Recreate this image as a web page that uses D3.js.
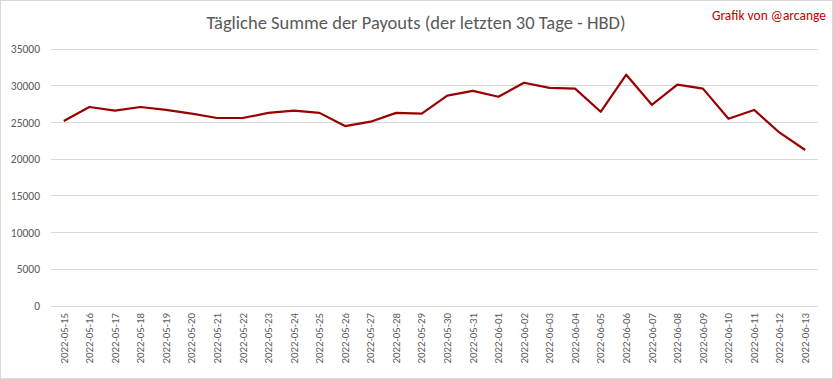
<!DOCTYPE html>
<html><head><meta charset="utf-8">
<script src="https://cdn.jsdelivr.net/npm/d3@7"></script>
<style>body{margin:0;background:#fff}svg{display:block}</style>
</head><body>
<script>
const dates = ["2022-05-15","2022-05-16","2022-05-17","2022-05-18","2022-05-19","2022-05-20","2022-05-21","2022-05-22","2022-05-23","2022-05-24","2022-05-25","2022-05-26","2022-05-27","2022-05-28","2022-05-29","2022-05-30","2022-05-31","2022-06-01","2022-06-02","2022-06-03","2022-06-04","2022-06-05","2022-06-06","2022-06-07","2022-06-08","2022-06-09","2022-06-10","2022-06-11","2022-06-12","2022-06-13"];
const payouts = [25200,27100,26600,27100,26700,26200,25600,25600,26300,26600,26300,24500,25100,26300,26200,28640,29300,28500,30400,29700,29600,26450,31500,27400,30150,29600,25500,26700,23600,21250];
const yTicks = [0,5000,10000,15000,20000,25000,30000,35000];
const title = "Tägliche Summe der Payouts (der letzten 30 Tage - HBD)";
const credit = "Grafik von @arcange";

const W=833,H=379;
const svg=d3.select("body").append("svg").attr("width",W).attr("height",H);
svg.append("rect").attr("x",0.5).attr("y",0.5).attr("width",W-1).attr("height",H-1).attr("fill","#fff").attr("stroke","#d9d9d9");
const font="Carlito, Calibri, 'Liberation Sans', Arial, sans-serif";
const x=d3.scaleBand().domain(dates).range([51,818]);
const y=d3.scaleLinear().domain([0,35000]).range([306,49]);

svg.append("g").selectAll("line").data(yTicks).join("line")
  .attr("x1",51).attr("x2",818).attr("y1",d=>y(d)).attr("y2",d=>y(d))
  .attr("stroke","#d9d9d9").attr("stroke-width",1).attr("shape-rendering","crispEdges");

const ya=svg.append("g").attr("transform","translate(51,0)").call(d3.axisLeft(y).tickValues(yTicks).tickSize(0).tickPadding(11).tickFormat(d3.format("d")));
ya.select(".domain").remove();
ya.selectAll("text").attr("fill","#595959").style("font-family",font).style("font-size","11.5px");

const xa=svg.append("g").attr("transform","translate(0,306)").call(d3.axisBottom(x).tickSize(0).tickPadding(0));
xa.select(".domain").remove();
xa.selectAll("text").attr("fill","#595959").style("font-family",font).style("font-size","10.8px")
  .attr("transform","rotate(-90)").attr("text-anchor","end").attr("dy","0.35em").attr("x",-7).attr("y",0);

const line=d3.line().x((d,i)=>x(dates[i])+x.bandwidth()/2).y(d=>y(d));
svg.append("path").datum(payouts).attr("d",line).attr("fill","none").attr("stroke","#990000").attr("stroke-width",2.2).attr("stroke-linejoin","round");

svg.append("text").attr("x",416).attr("y",29).attr("text-anchor","middle").attr("fill","#595959")
  .style("font-family",font).style("font-size","18.5px").style("font-weight","300").text(title);
svg.append("text").attr("x",826).attr("y",20).attr("text-anchor","end").attr("fill","#c00000")
  .style("font-family",font).style("font-size","13.5px").text(credit);
</script>
</body></html>
